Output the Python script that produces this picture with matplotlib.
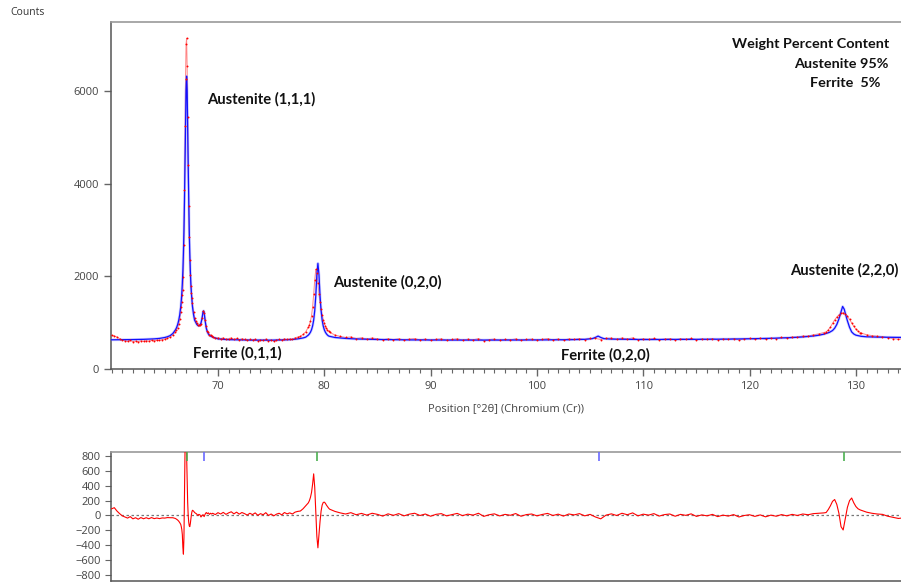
import numpy as np
import matplotlib
matplotlib.use("Agg")
import matplotlib.pyplot as plt

# measured grid in deg 2theta: coarse over the background, finer across the peaks
two_theta = np.concatenate([
    np.arange(60.0, 65.76, 0.25),
    np.arange(66.0, 66.41, 0.1),
    np.arange(66.5, 67.61, 0.05),
    np.arange(67.7, 69.41, 0.1),
    np.arange(69.5, 78.26, 0.25),
    np.arange(78.5, 80.41, 0.1),
    np.arange(80.5, 127.01, 0.5),
    np.arange(127.2, 130.41, 0.2),
    np.arange(130.5, 134.51, 0.5),
])

obs_counts = [
    725, 715, 690, 655, 625, 612, 598, 615, 590, 604, 588, 610, 596, 612, 600, 618, 608, 620, 618, 635, 645, 668, 690, 735,
    800, 840, 893, 965, 1069,
    1230, 1330, 1450, 1590, 1700, 1980, 2680, 3860, 5250, 6270, 7010, 7140, 6530, 5450, 4400, 3520, 2840, 2350, 2020, 1800, 1650, 1530, 1420,
    1237, 1096, 1040, 985, 940, 945, 955, 970, 1090, 1250, 1205, 1050, 920, 825, 790, 743, 740, 718,
    693, 663, 679, 655, 672, 641, 658, 670, 640, 661, 633, 654, 637, 616, 640, 621, 643, 610, 632, 617, 645, 607, 627, 603, 627, 640, 619, 653, 637, 653, 642, 673, 690, 704, 745, 800,
    905, 960, 1035, 1150, 1340, 1610, 1920, 2150, 2080, 1850, 1620, 1440, 1290, 1170, 1060, 990, 930, 880, 845, 815,
    790, 735, 703, 680, 692, 658, 673, 647, 669, 652, 627, 655, 634, 655, 624, 646, 657, 627, 647, 616,
    641, 651, 620, 637, 653, 623, 643, 630, 655, 613, 635, 646, 618, 640, 628, 651, 615, 638, 646, 622,
    642, 656, 629, 648, 622, 651, 640, 658, 635, 660, 660, 636, 665, 667, 640, 669, 648, 672, 632, 654,
    641, 661, 629, 649, 657, 628, 654, 641, 661, 628, 649, 637, 657, 628, 649, 637, 658, 628, 650, 662,
    643, 665, 642, 667, 656, 683, 668, 693, 684, 712, 710, 737, 758, 787,
    800, 845, 905, 985, 1060, 1120, 1170, 1205, 1215, 1195, 1140, 1070, 995, 920, 860, 815, 785,
    775, 740, 721, 708, 701, 674, 658, 642, 651,
]

diff_counts = [
    90, 105, 60, 25, -5, -20, -35, -15, -45, -30, -50, -28, -44, -30, -44, -28, -42, -34, -42, -33, -35, -28, -30, -30,
    -40, -50, -60, -75, -95,
    -120, -150, -190, -260, -430, -520, -300, 250, 850, 1000, 1000, 820, 520, 180, 0, -90, -140, -150, -110, -50, 10, 50, 70,
    60, 40, 30, 20, 0, 15, 10, -20, 0, 10, -15, 20, 40, 25, 35, 15, 30, 20,
    30, 12, 38, 20, 42, 15, 35, 50, 22, 45, 18, 40, 25, 5, 30, 12, 35, 2, 25, 10, 38, 0, 20, -5, 18, 30, 8, 40, 22, 35, 20, 45, 55, 60, 90, 130,
    170, 200, 245, 310, 420, 560, 380, 60, -280, -435, -250, -80, 60, 140, 175, 180, 165, 140, 120, 100,
    85, 55, 35, 20, 38, 10, 28, 5, 30, 15, -8, 22, 2, 25, -5, 18, 30, 0, 20, -10,
    15, 25, -5, 12, 28, -2, 18, 5, 30, -12, 10, 22, -6, 15, 3, 26, -10, 12, 20, -5,
    14, 28, 0, 18, -8, 20, 8, 25, -5, 15, -20, -45, 5, 22, 0, 30, 10, 35, -5, 18,
    5, 25, -8, 12, 20, -10, 15, 2, 22, -12, 8, -5, 15, -15, 5, -8, 12, -20, 0, 10,
    -12, 8, -18, 5, -10, 12, -5, 15, 0, 20, 10, 25, 30, 35,
    40, 80, 130, 190, 215, 150, 30, -150, -195, -40, 110, 200, 235, 170, 120, 90, 75,
    70, 45, 30, 20, 15, -10, -25, -40, -30,
]

# fitted (calculated) profile
calc_pos = [
    60.0, 61.0, 62.0, 63.0, 64.0, 64.5, 65.0, 65.25, 65.5, 65.75,
    66.0, 66.1, 66.2, 66.3, 66.4,
    66.5, 66.55, 66.6, 66.65, 66.7, 66.75, 66.8, 66.85, 66.9, 66.95, 67.0, 67.05,
    67.1, 67.15, 67.2, 67.25, 67.3, 67.35, 67.4, 67.45, 67.5, 67.55, 67.6,
    67.7, 67.8, 67.9, 68.0, 68.1, 68.2, 68.3, 68.4, 68.5, 68.6, 68.65, 68.7, 68.8, 68.9,
    69.0, 69.1, 69.2, 69.3, 69.4, 69.5, 70.0, 70.5, 71.0, 72.0, 73.0, 74.0, 75.0, 76.0,
    76.5, 77.0, 77.5, 78.0, 78.25,
    78.5, 78.6, 78.7, 78.8, 78.9, 79.0, 79.1, 79.2, 79.3, 79.4,
    79.5, 79.6, 79.7, 79.8, 79.9, 80.0, 80.1, 80.2, 80.3, 80.4,
    80.5, 81.0, 82.0, 83.0, 84.0, 85.0, 88.0, 92.0, 96.0, 100.0, 103.0, 104.5,
    105.2, 105.5, 105.75, 106.0, 106.3, 107.0, 110.0, 115.0, 118.0, 120.0, 122.0, 124.0,
    125.0, 126.0, 126.5, 127.0, 127.5, 127.8, 128.0, 128.2, 128.4, 128.6, 128.75, 128.9,
    129.05, 129.2, 129.4, 129.6, 129.8, 130.0, 130.5, 131.0, 132.0, 133.0, 134.0, 134.5,
]
calc_counts = [
    630, 632, 635, 640, 650, 660, 680, 696, 720, 765,
    844, 890, 953, 1040, 1164,
    1350, 1480, 1640, 1850, 2130, 2500, 2980, 3610, 4400, 5270, 6010, 6320,
    6010, 5270, 4400, 3610, 2980, 2500, 2130, 1850, 1640, 1480, 1350,
    1177, 1056, 1010, 965, 940, 930, 945, 990, 1090, 1240, 1255, 1220, 1030, 880,
    800, 755, 728, 710, 698, 688, 650, 640, 634, 628, 624, 622, 622, 626,
    630, 637, 650, 670, 687,
    732, 759, 795, 848, 928, 1054, 1257, 1581, 2030, 2280,
    2030, 1581, 1257, 1054, 928, 848, 795, 759, 732, 713,
    705, 680, 660, 648, 642, 637, 628, 624, 624, 627, 632, 640,
    655, 681, 710, 681, 655, 645, 636, 640, 645, 652, 662, 678,
    692, 712, 728, 752, 790, 830, 880, 960, 1080, 1230, 1350, 1290,
    1160, 1040, 900, 800, 755, 730, 705, 695, 688, 684, 682, 681,
]

# reference peak positions (ticks on the difference panel)
austenite_refs = [67.05, 79.3, 128.85]
ferrite_refs = [68.65, 105.8]

peak_labels = ["Austenite (1,1,1)", "Ferrite (0,1,1)", "Austenite (0,2,0)",
               "Ferrite (0,2,0)", "Austenite (2,2,0)"]
label_pos = [(69.0, 5830), (67.65, 345), (80.85, 1880), (102.25, 300), (123.8, 2120)]

content_lines = ["Weight Percent Content", "Austenite 95%", "Ferrite  5%"]

plt.rcParams["font.family"] = ["Open Sans", "DejaVu Sans"]
bold_font = ["Lato", "DejaVu Sans"]

fig = plt.figure(figsize=(9.01, 5.82), dpi=100)
ax = fig.add_axes([0.1232, 0.366, 0.8768, 0.5962])
axr = fig.add_axes([0.1232, 0.0017, 0.8768, 0.2217])

ax.plot(two_theta, obs_counts, color="#ff2020", lw=0.7, alpha=0.55, zorder=2)
ax.plot(calc_pos, calc_counts, color="#8c8cff", lw=2.0, alpha=0.4, zorder=3)
ax.plot(calc_pos, calc_counts, color="#1010ff", lw=0.9, zorder=4)
ax.plot(two_theta, obs_counts, ".", color="#ff0000", ms=2.8, mew=0, zorder=5)

ax.set_xlim(59.94, 134.24)
ax.set_ylim(0, 7490)
ax.set_xticks(range(70, 131, 10))
ax.set_xticks(range(60, 135), minor=True)
ax.set_yticks([0, 2000, 4000, 6000])
ax.tick_params(axis="both", which="major", direction="out", length=5, width=1,
               color="#666", labelcolor="#444", labelsize=8)
ax.tick_params(axis="x", which="minor", direction="out", length=3, width=0.8, color="#666")
ax.set_xlabel("Position [°2θ] (Chromium (Cr))", fontsize=8, color="#444", labelpad=8)
ax.spines["right"].set_visible(False)
ax.spines["top"].set_color("#999")
ax.spines["top"].set_linewidth(1.2)
for side in ("left", "bottom"):
    ax.spines[side].set_color("#555")
    ax.spines[side].set_linewidth(1.1)

for text, (x, y) in zip(peak_labels, label_pos):
    ax.text(x, y, text, fontsize=10.6, fontweight="bold", family=bold_font,
            color="#111", va="center", ha="left")

for i, line in enumerate(content_lines):
    ax.text(0.9845 if i < 2 else 0.9735, 0.937 - i * 0.057, line, transform=ax.transAxes,
            fontsize=10.4, fontweight="bold", family=bold_font, color="#111",
            ha="right", va="center")

fig.text(0.011, 0.979, "Counts", fontsize=7.5, color="#333", va="center")

# difference panel
axr.plot(two_theta, diff_counts, color="#ff0000", lw=0.8, zorder=3)
axr.axhline(0, color="#777", lw=0.9, ls=(0, (2, 2)), zorder=2)
axr.vlines(austenite_refs, 0.93, 1.0, transform=axr.get_xaxis_transform(),
           colors="#4caf50", lw=1.2, zorder=4)
axr.vlines(ferrite_refs, 0.93, 1.0, transform=axr.get_xaxis_transform(),
           colors="#6a6aff", lw=1.2, zorder=4)
axr.set_xlim(59.94, 134.24)
axr.set_ylim(-881, 854)
axr.set_yticks(range(-800, 801, 200))
axr.tick_params(axis="y", direction="out", length=4, color="#666", labelcolor="#444", labelsize=8)
axr.tick_params(axis="x", bottom=False, labelbottom=False)
axr.spines["right"].set_visible(False)
axr.spines["top"].set_color("#999")
axr.spines["top"].set_linewidth(1.2)
for side in ("left", "bottom"):
    axr.spines[side].set_color("#555")
    axr.spines[side].set_linewidth(1.1)

fig.savefig("out.png", dpi=100)
